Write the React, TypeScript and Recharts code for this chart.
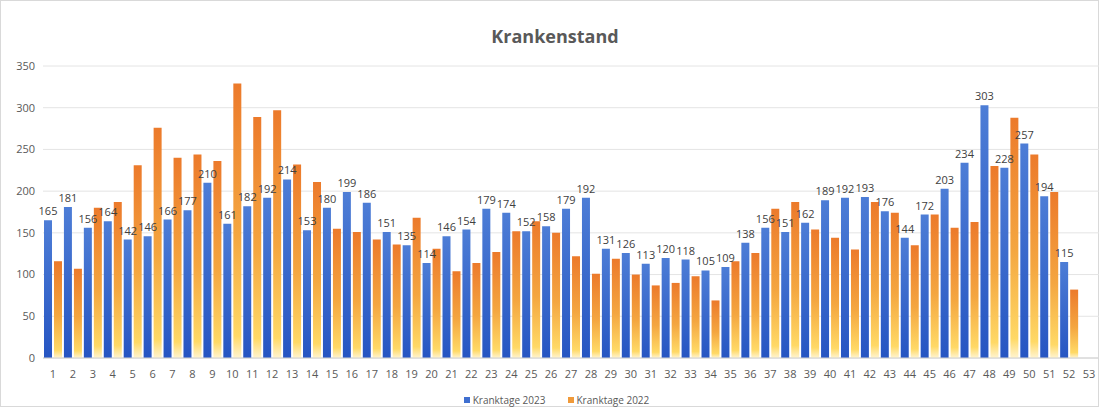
import React from "react";
import {
  BarChart,
  Bar,
  XAxis,
  YAxis,
  CartesianGrid,
  Legend,
  LabelList,
} from "recharts";

const weeks = Array.from({ length: 53 }, (_, i) => String(i + 1));

// Kranktage 2023 (week 53 empty)
const kranktage2023 = [
  165, 181, 156, 164, 142, 146, 166, 177, 210, 161, 182, 192, 214, 153, 180,
  199, 186, 151, 135, 114, 146, 154, 179, 174, 152, 158, 179, 192, 131, 126,
  113, 120, 118, 105, 109, 138, 156, 151, 162, 189, 192, 193, 176, 144, 172,
  203, 234, 303, 228, 257, 194, 115, null,
];

// Kranktage 2022
const kranktage2022 = [
  116, 107, 180, 187, 231, 276, 240, 244, 236, 329, 289, 297, 232, 211, 155,
  151, 142, 136, 168, 131, 104, 114, 127, 152, 164, 150, 122, 101, 119, 100,
  87, 90, 98, 69, 116, 126, 179, 187, 154, 144, 130, 187, 174, 135, 172, 156,
  163, 230, 288, 244, 199, 82, null,
];

const yTicks = [0, 50, 100, 150, 200, 250, 300, 350];

const data = weeks.map((w, i) => ({
  week: w,
  y2023: kranktage2023[i],
  y2022: kranktage2022[i],
}));

const FONT = "'Open Sans', 'Liberation Sans', sans-serif";

const LegendContent = () => (
  <div
    style={{
      display: "flex",
      justifyContent: "center",
      alignItems: "center",
      height: 23,
      fontFamily: FONT,
      fontSize: 10,
      color: "#595959",
      paddingLeft: 14,
    }}
  >
    <span style={{ display: "flex", alignItems: "center", marginRight: 22 }}>
      <span style={{ width: 6, height: 6, background: "#3f6fd0", marginRight: 3 }} />
      Kranktage 2023
    </span>
    <span style={{ display: "flex", alignItems: "center" }}>
      <span style={{ width: 6, height: 6, background: "#f09a3a", marginRight: 3 }} />
      Kranktage 2022
    </span>
  </div>
);

export default function App() {
  return (
    <div
      style={{
        position: "absolute",
        left: 0,
        top: 0,
        width: 1102,
        height: 411,
        background: "#fff",
      }}
    >
      <div
        style={{
          position: "absolute",
          left: 0,
          top: 0,
          width: 1099,
          height: 407,
          border: "1px solid #d9d9d9",
          boxSizing: "border-box",
        }}
      />
      <div
        style={{
          position: "absolute",
          top: 27,
          left: 0,
          width: 1110,
          textAlign: "center",
          fontFamily: FONT,
          fontWeight: 700,
          fontSize: 18,
          lineHeight: "18px",
          color: "#595959",
        }}
      >
        Krankenstand
      </div>
      <BarChart
        width={1102}
        height={411}
        data={data}
        margin={{ top: 66, right: 3, left: 0, bottom: 0 }}
        barCategoryGap={1}
        barGap={2}
      >
        <defs>
          <linearGradient id="gBlue" x1="0" y1="0" x2="0" y2="1">
            <stop offset="0%" stopColor="#4d7dd6" />
            <stop offset="100%" stopColor="#2655c2" />
          </linearGradient>
          <linearGradient id="gOrange" x1="0" y1="0" x2="0" y2="1">
            <stop offset="0%" stopColor="#ec7a2b" />
            <stop offset="55%" stopColor="#f4a640" />
            <stop offset="92%" stopColor="#ffd966" />
            <stop offset="100%" stopColor="#fff4d0" />
          </linearGradient>
        </defs>
        <CartesianGrid vertical={false} stroke="#e4e4e4" />
        <XAxis
          dataKey="week"
          height={30}
          interval={0}
          tickLine={false}
          axisLine={{ stroke: "#d0d0d0" }}
          tick={{ fill: "#595959", fontSize: 11, fontFamily: FONT }}
          tickMargin={6}
        />
        <YAxis
          width={43}
          domain={[0, 350]}
          ticks={yTicks}
          axisLine={false}
          tickLine={false}
          tick={{ fill: "#595959", fontSize: 11, fontFamily: FONT }}
        />
        <Legend verticalAlign="bottom" content={<LegendContent />} />
        <Bar
          dataKey="y2023"
          name="Kranktage 2023"
          fill="url(#gBlue)"
          isAnimationActive={false}
        >
          <LabelList
            dataKey="y2023"
            position="top"
            fill="#404040"
            fontSize={11}
            fontFamily={FONT}
          />
        </Bar>
        <Bar
          dataKey="y2022"
          name="Kranktage 2022"
          fill="url(#gOrange)"
          isAnimationActive={false}
        />
      </BarChart>
    </div>
  );
}
